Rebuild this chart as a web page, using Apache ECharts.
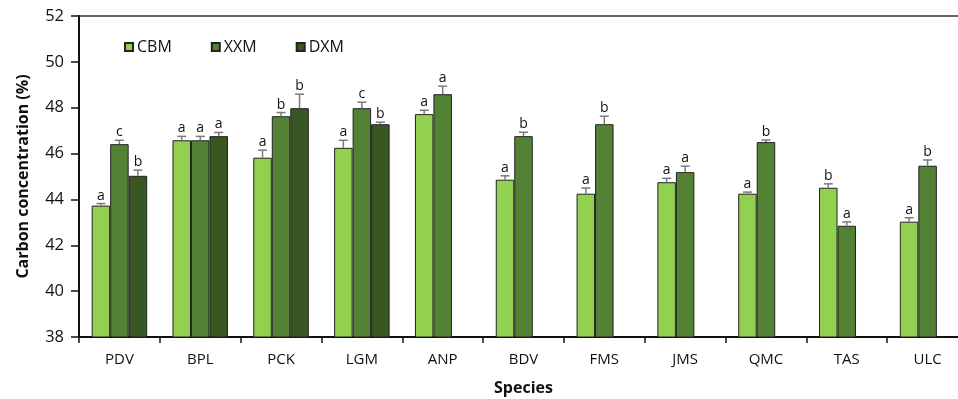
<!DOCTYPE html>
<html>
<head>
<meta charset="utf-8">
<script src="https://cdn.jsdelivr.net/npm/echarts@6/dist/echarts.min.js"></script>
<style>
  html, body { margin: 0; padding: 0; background: #fff; }
  #chart { width: 958px; height: 399px; }
</style>
</head>
<body>
<div id="chart"></div>
<script>
// Species sampled
const categories = ['PDV', 'BPL', 'PCK', 'LGM', 'ANP', 'BDV', 'FMS', 'JMS', 'QMC', 'TAS', 'ULC'];

// Mean carbon concentration (%) per stand type
const cbm = [43.73, 46.58, 45.82, 46.25, 47.72, 44.86, 44.25, 44.75, 44.25, 44.51, 43.03];
const xxm = [46.41, 46.58, 47.63, 47.98, 48.59, 46.76, 47.28, 45.19, 46.50, 42.85, 45.47];
const dxm = [45.03, 46.76, 47.98, 47.28, null, null, null, null, null, null, null];

// Standard errors
const cbmErr = [0.09, 0.17, 0.33, 0.33, 0.17, 0.17, 0.25, 0.17, 0.07, 0.17, 0.17];
const xxmErr = [0.17, 0.17, 0.16, 0.26, 0.35, 0.17, 0.35, 0.26, 0.09, 0.17, 0.25];
const dxmErr = [0.25, 0.16, 0.61, 0.09, null, null, null, null, null, null, null];

// Significance letters
const cbmSig = ['a', 'a', 'a', 'a', 'a', 'a', 'a', 'a', 'a', 'b', 'a'];
const xxmSig = ['c', 'a', 'b', 'c', 'a', 'b', 'b', 'a', 'b', 'a', 'b'];
const dxmSig = ['b', 'a', 'b', 'b', '', '', '', '', '', '', ''];

// Y axis ticks
const yMin = 38, yMax = 52, yStep = 2;

const FONT = '"Open Sans", "Noto Sans", sans-serif';
const BAR_W = 18.5;

const groups = [
  { name: 'CBM', values: cbm, err: cbmErr, sig: cbmSig, color: '#92D050' },
  { name: 'XXM', values: xxm, err: xxmErr, sig: xxmSig, color: '#548235' },
  { name: 'DXM', values: dxm, err: dxmErr, sig: dxmSig, color: '#385723' }
];

const series = [];
groups.forEach(function (g) {
  series.push({
    name: g.name,
    type: 'bar',
    barWidth: BAR_W,
    barGap: '0%',
    data: g.values,
    itemStyle: { color: g.color, borderColor: '#222', borderWidth: 1 }
  });
});

// Error bars with caps and letters on top
groups.forEach(function (g, gi) {
  const rows = g.values.map(function (v, i) {
    return v == null ? [i, null, null, ''] : [i, v, g.err[i], g.sig[i]];
  });
  series.push({
    type: 'custom',
    name: g.name + '-err',
    silent: true,
    z: 5,
    data: rows,
    encode: { x: 0, y: 1 },
    renderItem: function (params, api) {
      const v = api.value(1);
      if (v == null || isNaN(v)) return null;
      const e = api.value(2);
      const idx = api.value(0);
      const base = api.coord([idx, v]);
      const top = api.coord([idx, v + e]);
      const x = base[0] + (gi - 1) * BAR_W;
      const label = rows[params.dataIndex][3];
      return {
        type: 'group',
        children: [
          { type: 'line', shape: { x1: x, y1: base[1], x2: x, y2: top[1] },
            style: { stroke: '#7a7a7a', lineWidth: 1.5 } },
          { type: 'line', shape: { x1: x - 4.5, y1: top[1], x2: x + 4.5, y2: top[1] },
            style: { stroke: '#7a7a7a', lineWidth: 1.5 } },
          { type: 'text', x: x, y: top[1] - 1,
            style: { text: label, fill: '#111', font: '14px ' + FONT,
                     align: 'center', verticalAlign: 'bottom' } }
        ]
      };
    }
  });
});

const chart = echarts.init(document.getElementById('chart'));
chart.setOption({
  animation: false,
  textStyle: { fontFamily: FONT },
  grid: { left: 79, top: 16, width: 889, height: 321, show: true,
          outerBoundsMode: 'none',
          borderColor: '#333', borderWidth: 1.5, backgroundColor: 'transparent' },
  legend: {
    data: ['CBM', 'XXM', 'DXM'],
    left: 119, top: 34,
    icon: 'rect', itemWidth: 8, itemHeight: 8, itemGap: 39,
    textStyle: { fontSize: 16, color: '#111', fontFamily: FONT, padding: [0, 0, 0, -1] }
  },
  xAxis: {
    type: 'category',
    data: categories,
    name: 'Species',
    nameLocation: 'middle',
    nameGap: 43,
    nameTextStyle: { fontSize: 16, fontWeight: 'bold', color: '#111', fontFamily: FONT },
    axisLine: { lineStyle: { color: '#111', width: 2 } },
    axisTick: { show: true, length: 6, lineStyle: { color: '#111', width: 1.5 } },
    axisLabel: { fontSize: 15, color: '#111', margin: 15, fontFamily: FONT },
    splitLine: { show: false }
  },
  yAxis: {
    type: 'value',
    min: yMin, max: yMax, interval: yStep,
    name: 'Carbon concentration (%)',
    nameLocation: 'middle',
    nameGap: 48,
    nameTextStyle: { fontSize: 16, fontWeight: 'bold', color: '#111', fontFamily: FONT },
    axisLine: { show: true, lineStyle: { color: '#111', width: 2 } },
    axisTick: { show: true, length: 8, lineStyle: { color: '#111', width: 1.5 } },
    axisLabel: { fontSize: 16.5, color: '#111', margin: 15, fontFamily: FONT },
    splitLine: { show: false }
  },
  series: series
});
</script>
</body>
</html>
